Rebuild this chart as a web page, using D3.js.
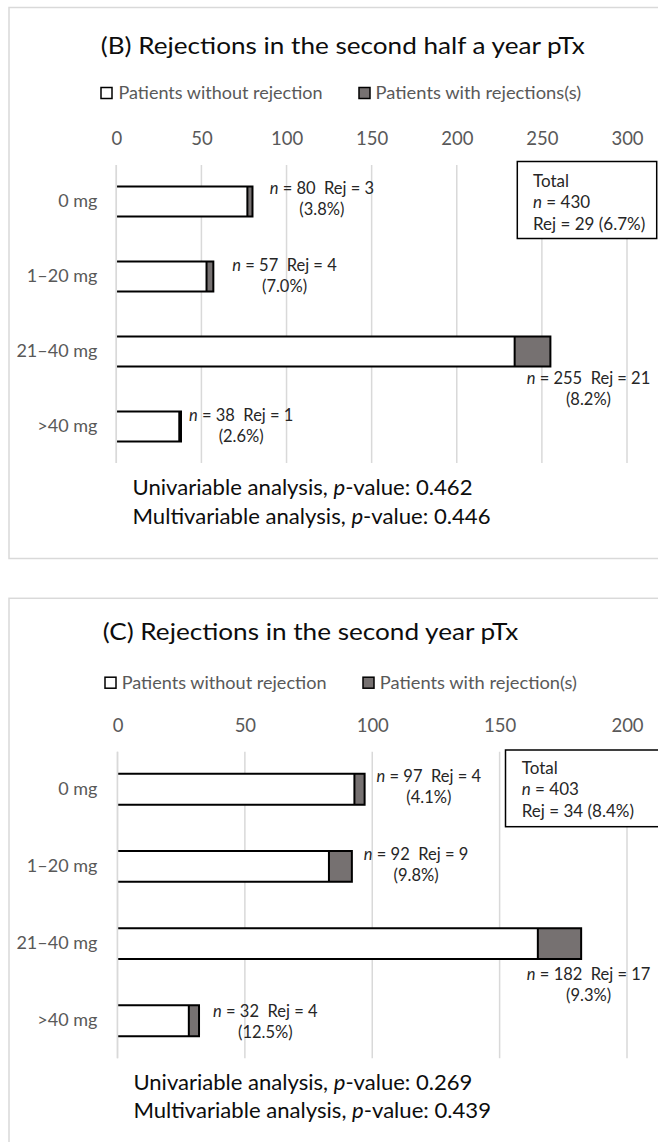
<!DOCTYPE html>
<html><head><meta charset="utf-8">
<script src="https://cdn.jsdelivr.net/npm/d3@7"></script>
<style>
body{margin:0;background:#fff}
svg{display:block}
text{font-family:Lato,"Liberation Sans",sans-serif}
</style>
</head><body>
<svg id="chart" width="658" height="1142"></svg>
<script>
// ---------------- DATA ----------------
const categories = ["0 mg", "1–20 mg", "21–40 mg", ">40 mg"];

const B_title = "(B) Rejections in the second half a year pTx";
const B_legend = ["Patients without rejection", "Patients with rejections(s)"];
const B_without = [77, 53, 234, 37];
const B_with = [3, 4, 21, 1];
const B_n = [80, 57, 255, 38];
const B_pct = ["3.8%", "7.0%", "8.2%", "2.6%"];
const B_ticks = [0, 50, 100, 150, 200, 250, 300];
const B_totalN = 430, B_totalRej = 29, B_totalPct = "6.7%";
const B_pvalues = ["0.462", "0.446"];

const C_title = "(C) Rejections in the second year pTx";
const C_legend = ["Patients without rejection", "Patients with rejection(s)"];
const C_without = [93, 83, 165, 28];
const C_with = [4, 9, 17, 4];
const C_n = [97, 92, 182, 32];
const C_pct = ["4.1%", "9.8%", "9.3%", "12.5%"];
const C_ticks = [0, 50, 100, 150, 200];
const C_totalN = 403, C_totalRej = 34, C_totalPct = "8.4%";
const C_pvalues = ["0.269", "0.439"];

const pLabels = ["Univariable analysis, ", "Multivariable analysis, "];

// ---------------- LAYOUT / STYLE ----------------
const COL_GRAY_TXT = "#595959";
const COL_REJ = "#767171";
const COL_GRID = "#d9d9d9";

const layouts = {
  B: {
    frame: [9, 7.5, 670, 551],
    titleX: 100.7, titleY: 45, titleW: 484,
    legendY: 93, legendSq: [101, 359], legendTx: [118.5, 375.6], legendW: [204, 205.6],
    tickY: 138, xRange: [116.3, 627], yRange: [165, 463],
    catX: 97.4,
    labDx: [69.4, 71.2, 38.1, 60.2], labDy: [-13, -11.5, 26.4, -11.5],
    box: [517.3, 161.5, 139.4, 77], boxTx: 533, boxY: [181, 202, 224],
    footX: 132.5, footY: [488, 516.7], footW: [340, 358]
  },
  C: {
    frame: [9, 598.3, 670, 600],
    titleX: 102.8, titleY: 631.7, titleW: 415.4,
    legendY: 682.7, legendSq: [105, 363], legendTx: [121.7, 379.8], legendW: [204.8, 197.2],
    tickY: 725.7, xRange: [117.5, 627], yRange: [751.7, 1058.3],
    catX: 97.4,
    labDx: [64.2, 64.2, 7.5, 66.3], labDy: [-12.8, -12, 30.3, -9.8],
    box: [505.5, 750, 170, 76.7], boxTx: 521.7, boxY: [768.3, 789, 810.5],
    footX: 133.4, footY: [1082.7, 1110.7], footW: [339, 357.6]
  }
};

const svg = d3.select("#chart");

function fit(sel, w) {
  if (!w) return sel;
  sel.attr("textLength", w).attr("lengthAdjust", "spacingAndGlyphs");
  return sel;
}

function drawPanel(L, d) {
  const g = svg.append("g");
  // frame
  g.append("rect").attr("x", L.frame[0]).attr("y", L.frame[1])
    .attr("width", L.frame[2]).attr("height", L.frame[3])
    .attr("fill", "none").attr("stroke", COL_GRID).attr("stroke-width", 1.5);

  // title
  fit(g.append("text").attr("x", L.titleX).attr("y", L.titleY).attr("dy", "0.36em")
    .attr("font-size", 24).attr("fill", "#0d0d0d").text(d.title), L.titleW);

  // legend
  const legFill = ["#ffffff", COL_REJ];
  d.legend.forEach((t, i) => {
    g.append("rect").attr("x", L.legendSq[i]).attr("y", L.legendY - 5.5)
      .attr("width", 11).attr("height", 11)
      .attr("fill", legFill[i]).attr("stroke", "#000").attr("stroke-width", 1.5);
    fit(g.append("text").attr("x", L.legendTx[i]).attr("y", L.legendY).attr("dy", "0.36em")
      .attr("font-size", 18).attr("fill", COL_GRAY_TXT).text(t), L.legendW[i]);
  });

  const x = d3.scaleLinear().domain([0, d3.max(d.ticks)]).range(L.xRange);
  const y = d3.scaleBand().domain(categories).range(L.yRange)
    .paddingInner(0.6).paddingOuter(0.287);

  // axis on top with gridlines
  const axis = d3.axisTop(x).tickValues(d.ticks).tickSize(0).tickPadding(0);
  const ax = g.append("g").attr("transform", `translate(0,${L.tickY})`).call(axis);
  ax.select(".domain").remove();
  ax.selectAll("text").attr("font-size", 18.5).attr("fill", COL_GRAY_TXT)
    .attr("font-family", "Lato, 'Liberation Sans', sans-serif")
    .attr("dy", "0.36em").attr("y", 0);

  g.append("g").selectAll("line").data(d.ticks).join("line")
    .attr("x1", v => x(v)).attr("x2", v => x(v))
    .attr("y1", L.yRange[0]).attr("y2", L.yRange[1])
    .attr("stroke", COL_GRID).attr("stroke-width", 1.5);

  // category axis
  const yAxis = d3.axisLeft(y).tickSize(0).tickPadding(0);
  const ay = g.append("g").attr("transform", `translate(${L.catX},0)`).call(yAxis);
  ay.select(".domain").remove();
  ay.selectAll("text").attr("font-size", 18).attr("fill", COL_GRAY_TXT)
    .attr("font-family", "Lato, 'Liberation Sans', sans-serif");

  // bars
  const rows = categories.map((c, i) => ({c, a: d.without[i], b: d.with[i], i}));
  const bars = g.append("g");
  rows.forEach(r => {
    const y0 = y(r.c), h = y.bandwidth();
    const x0 = x(0), x1 = x(r.a), x2 = x(r.a + r.b);
    bars.append("rect").attr("x", x0).attr("y", y0).attr("width", x1 - x0).attr("height", h)
      .attr("fill", "#fff");
    bars.append("rect").attr("x", x1).attr("y", y0).attr("width", x2 - x1).attr("height", h)
      .attr("fill", COL_REJ);
    bars.append("path")
      .attr("d", `M${x0},${y0}H${x2}V${y0 + h}H${x0}M${x1},${y0}V${y0 + h}`)
      .attr("fill", "none").attr("stroke", "#000").attr("stroke-width", 2);
  });
  // zero line on top
  g.append("line").attr("x1", x(0)).attr("x2", x(0))
    .attr("y1", L.yRange[0]).attr("y2", L.yRange[1])
    .attr("stroke", COL_GRID).attr("stroke-width", 1.5);

  // data labels
  rows.forEach(r => {
    const cx = x(r.a + r.b) + L.labDx[r.i];
    const cy = y(r.c) + y.bandwidth() / 2 + L.labDy[r.i];
    const t1 = g.append("text").attr("x", cx).attr("y", cy).attr("dy", "0.36em")
      .attr("text-anchor", "middle").attr("font-size", 16.5).attr("fill", "#262626");
    t1.append("tspan").attr("font-style", "italic").text("n");
    t1.append("tspan").text(` = ${d.n[r.i]}\u00a0\u00a0Rej = ${d.with[r.i]}`);
    g.append("text").attr("x", cx).attr("y", cy + 21).attr("dy", "0.36em")
      .attr("text-anchor", "middle").attr("font-size", 16.5).attr("fill", "#262626")
      .text(`(${d.pct[r.i]})`);
  });

  // total box
  g.append("rect").attr("x", L.box[0]).attr("y", L.box[1]).attr("width", L.box[2]).attr("height", L.box[3])
    .attr("fill", "#fff").attr("stroke", "#000").attr("stroke-width", 1.5);
  const bt = [["", "Total"], ["n", ` = ${d.totalN}`], ["", `Rej = ${d.totalRej} (${d.totalPct})`]];
  bt.forEach((p, i) => {
    const t = g.append("text").attr("x", L.boxTx).attr("y", L.boxY[i]).attr("dy", "0.36em")
      .attr("font-size", 17).attr("fill", "#262626");
    if (p[0]) t.append("tspan").attr("font-style", "italic").text(p[0]);
    t.append("tspan").text(p[1]);
  });

  // footer
  d.pvalues.forEach((pv, i) => {
    const t = g.append("text").attr("x", L.footX).attr("y", L.footY[i]).attr("dy", "0.36em")
      .attr("font-size", 20.5).attr("fill", "#0d0d0d");
    t.append("tspan").text(pLabels[i]);
    t.append("tspan").attr("font-style", "italic").text("p");
    t.append("tspan").text(`-value: ${pv}`);
    fit(t, L.footW[i]);
  });
}

drawPanel(layouts.B, {
  title: B_title, legend: B_legend, without: B_without, with: B_with, n: B_n, pct: B_pct,
  ticks: B_ticks, totalN: B_totalN, totalRej: B_totalRej, totalPct: B_totalPct, pvalues: B_pvalues
});
drawPanel(layouts.C, {
  title: C_title, legend: C_legend, without: C_without, with: C_with, n: C_n, pct: C_pct,
  ticks: C_ticks, totalN: C_totalN, totalRej: C_totalRej, totalPct: C_totalPct, pvalues: C_pvalues
});
</script>
</body></html>
